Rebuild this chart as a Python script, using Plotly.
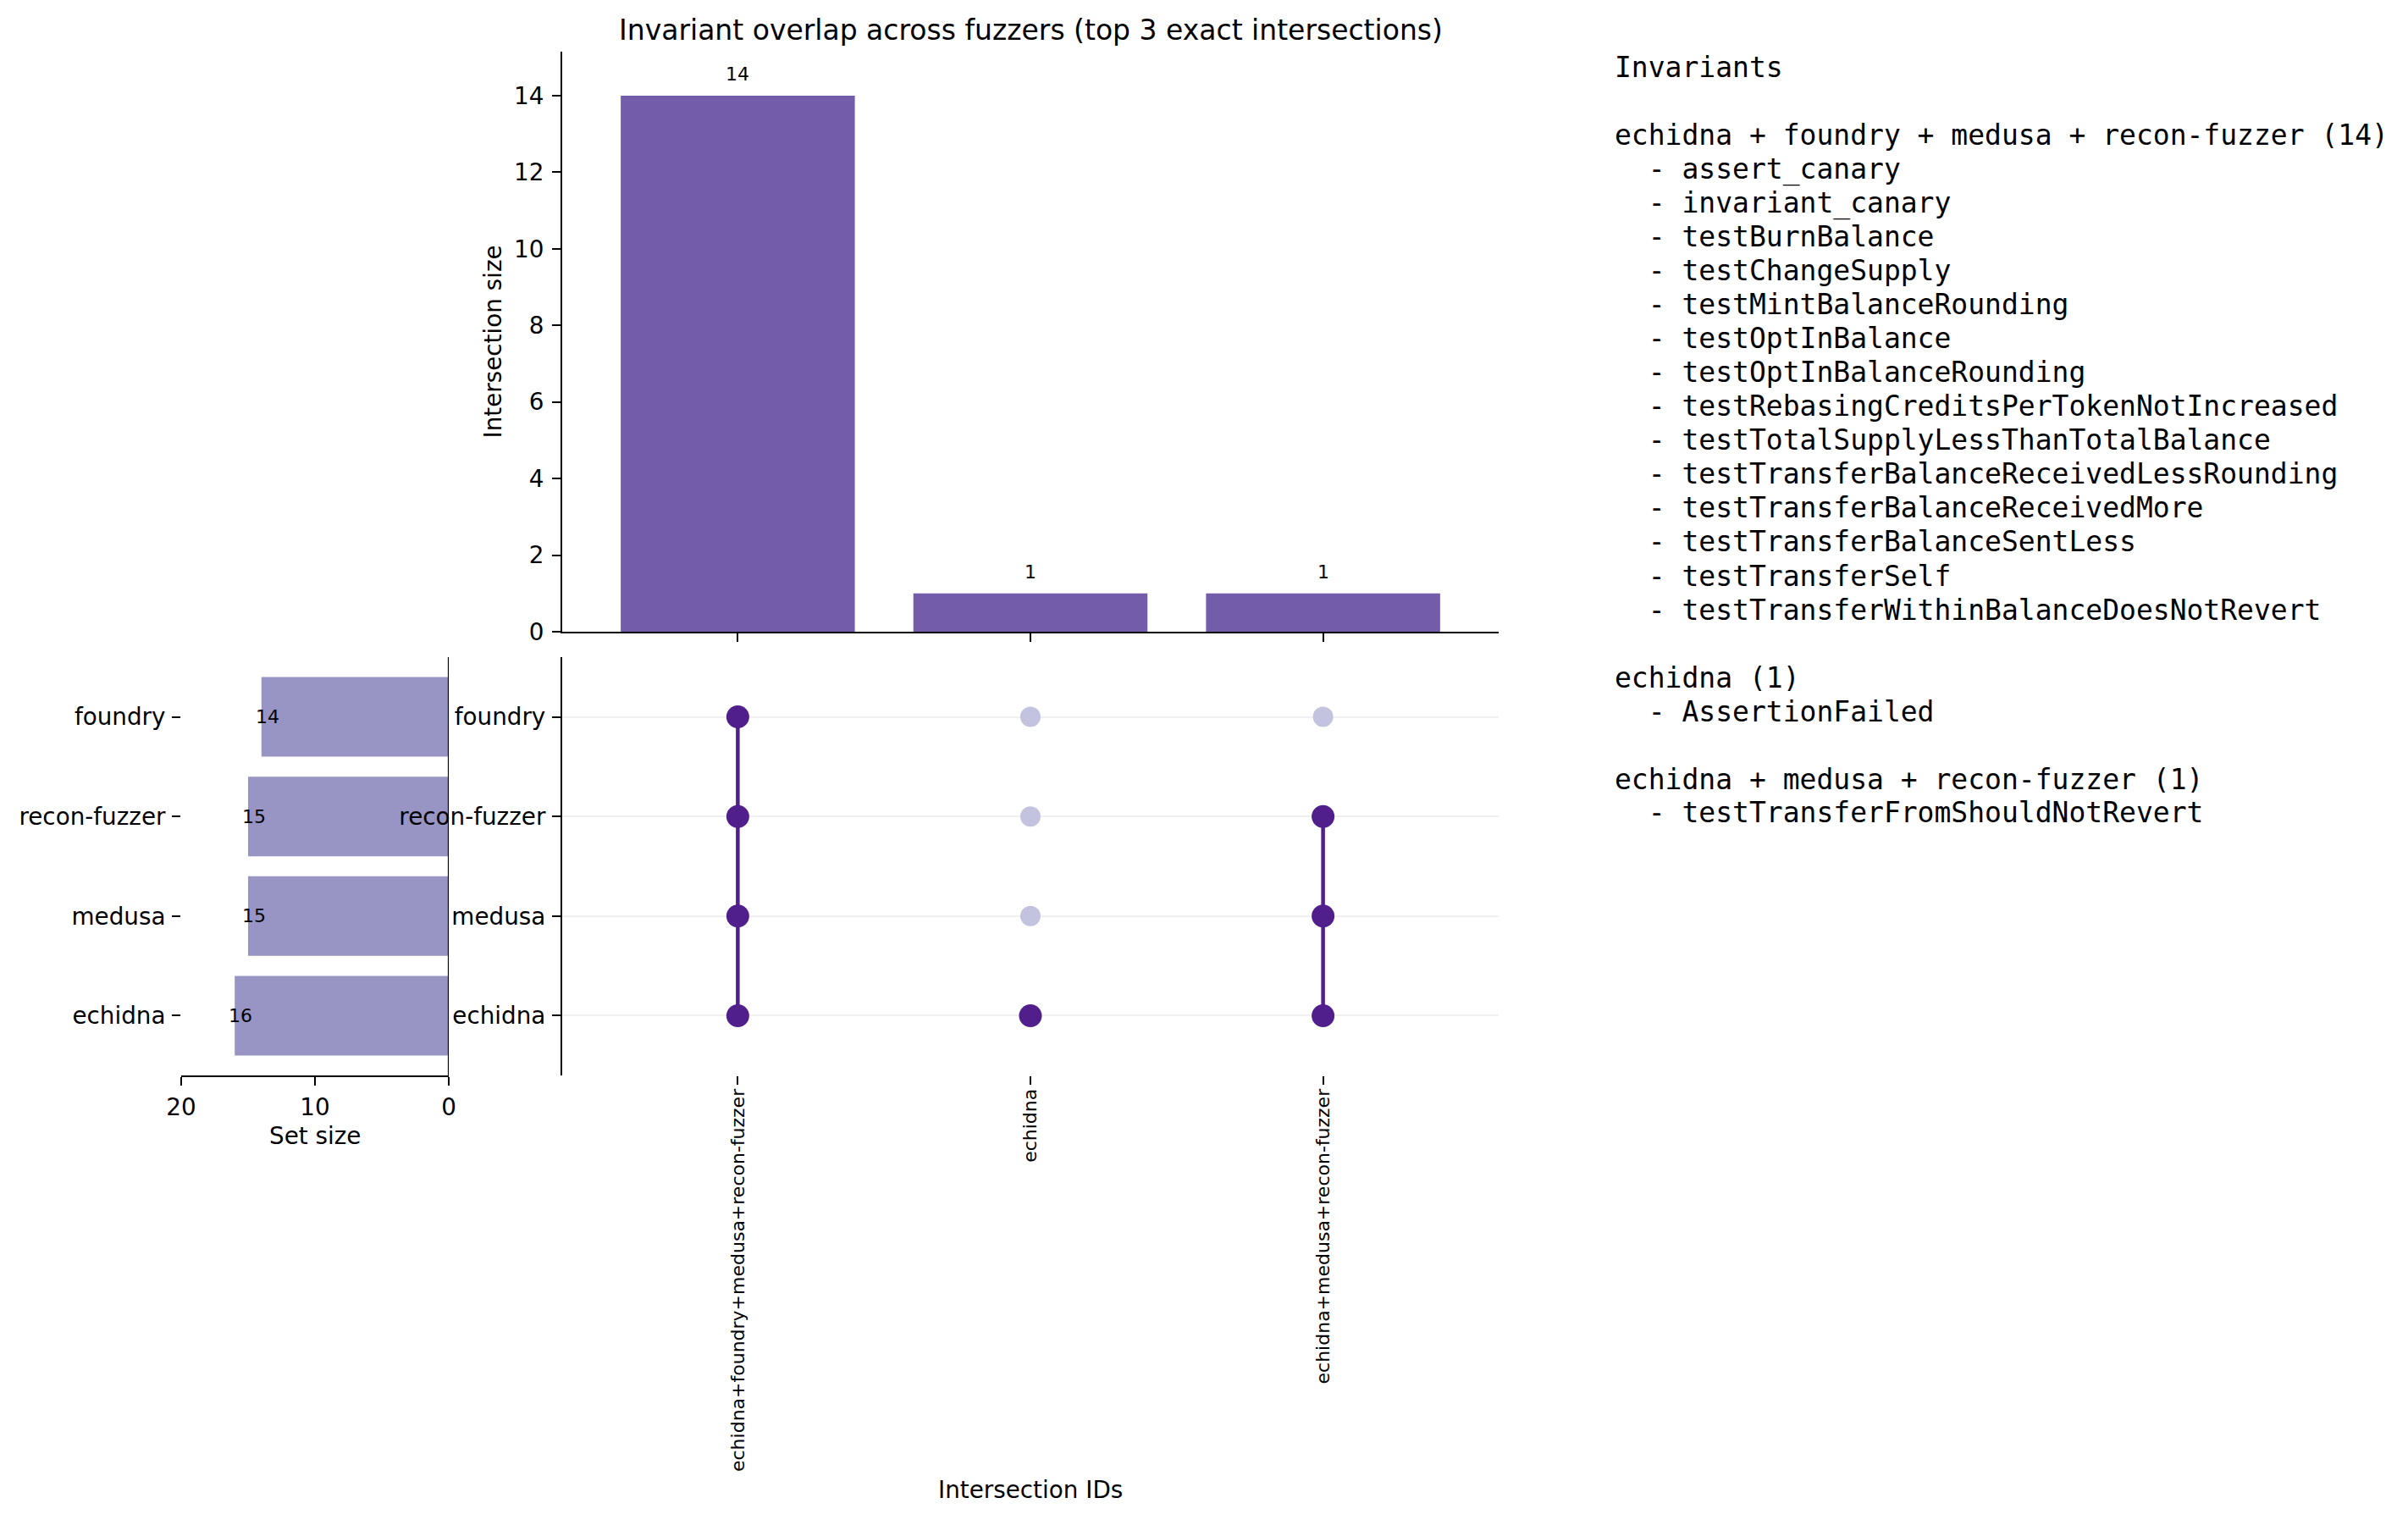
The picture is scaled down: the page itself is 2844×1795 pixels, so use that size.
import plotly.graph_objects as go

# ---------------- data ----------------
sets = ["echidna", "medusa", "recon-fuzzer", "foundry"]          # bottom -> top rows
set_sizes = [16, 15, 15, 14]
intersections = ["echidna+foundry+medusa+recon-fuzzer", "echidna", "echidna+medusa+recon-fuzzer"]
intersection_sizes = [14, 1, 1]
inv_all_four = [
    "assert_canary", "invariant_canary", "testBurnBalance", "testChangeSupply",
    "testMintBalanceRounding", "testOptInBalance", "testOptInBalanceRounding",
    "testRebasingCreditsPerTokenNotIncreased", "testTotalSupplyLessThanTotalBalance",
    "testTransferBalanceReceivedLessRounding", "testTransferBalanceReceivedMore",
    "testTransferBalanceSentLess", "testTransferSelf", "testTransferWithinBalanceDoesNotRevert",
]
inv_echidna_only = ["AssertionFailed"]
inv_echidna_medusa_recon = ["testTransferFromShouldNotRevert"]
invariant_groups = [inv_all_four, inv_echidna_only, inv_echidna_medusa_recon]

# ---------------- style ----------------
W, H = 2844, 1795
BAR_TOP = "#735ca9"
BAR_SET = "#9894c4"
DOT_ON = "#511f8b"
DOT_OFF = "#c3c3e0"
FONT = "DejaVu Sans"
TICK = 27.8

def px_x(v):
    return v / W

def px_y(v):
    return (H - v) / H

top_dom_x = [px_x(664), px_x(1770)]
top_dom_y = [px_y(746), px_y(61)]
mat_dom_y = [px_y(1270), px_y(776)]
set_dom_x = [px_x(214), px_x(530)]

fig = go.Figure()
xs = list(range(len(intersections)))
rows = list(range(len(sets)))

# top intersection bars (x / y)
fig.add_trace(go.Bar(x=xs, y=intersection_sizes, width=0.8, marker_color=BAR_TOP,
                     marker_line_width=0, xaxis="x", yaxis="y", hoverinfo="skip"))

# set size bars (x2 / y2) -- drawn before the matrix so matrix labels sit on top
fig.add_trace(go.Bar(x=set_sizes, y=rows, orientation="h", width=0.8, marker_color=BAR_SET,
                     marker_line_width=0, xaxis="x2", yaxis="y2", hoverinfo="skip"))

# matrix (x3 / y3)
members = [name.split("+") for name in intersections]
off_x, off_y, on_x, on_y = [], [], [], []
for i, mem in enumerate(members):
    for r, s in enumerate(sets):
        if s in mem:
            on_x.append(i); on_y.append(r)
        else:
            off_x.append(i); off_y.append(r)
fig.add_trace(go.Scatter(x=off_x, y=off_y, mode="markers", xaxis="x3", yaxis="y3",
                         marker=dict(size=24, color=DOT_OFF, line_width=0), hoverinfo="skip"))
for i, mem in enumerate(members):
    act = [r for r, s in enumerate(sets) if s in mem]
    if len(act) > 1:
        fig.add_trace(go.Scatter(x=[i, i], y=[min(act), max(act)], mode="lines", xaxis="x3", yaxis="y3",
                                 line=dict(color=DOT_ON, width=4.5), hoverinfo="skip"))
fig.add_trace(go.Scatter(x=on_x, y=on_y, mode="markers", xaxis="x3", yaxis="y3",
                         marker=dict(size=27, color=DOT_ON, line_width=0), hoverinfo="skip"))

axis_common = dict(linecolor="black", linewidth=2.2, tickcolor="black", tickwidth=2.2,
                   ticklen=10, ticks="outside", zeroline=False, showgrid=False, automargin=False,
                   tickfont=dict(size=TICK, color="black", family=FONT))

def txt(size, fam=FONT):
    return dict(size=size, family=fam, color="black")

annotations = []
# bar value labels
for x, v in zip(xs, intersection_sizes):
    annotations.append(dict(x=x, y=v, xref="x", yref="y", text=str(v), showarrow=False,
                            xanchor="center", yanchor="middle", yshift=25, font=txt(22)))
for r, v in zip(rows, set_sizes):
    annotations.append(dict(x=v, y=r, xref="x2", yref="y2", text=str(v), showarrow=False,
                            xanchor="center", xshift=7, yanchor="middle", font=txt(22)))

# axis titles and chart title
annotations.append(dict(x=px_x(582), y=(top_dom_y[0] + top_dom_y[1]) / 2, xref="paper", yref="paper",
                        text="Intersection size", textangle=-90, showarrow=False,
                        xanchor="center", yanchor="middle", font=txt(TICK)))
annotations.append(dict(x=px_x(372), y=px_y(1341), xref="paper", yref="paper", text="Set size",
                        showarrow=False, xanchor="center", yanchor="middle", font=txt(TICK)))
annotations.append(dict(x=px_x(1217), y=px_y(1759), xref="paper", yref="paper", text="Intersection IDs",
                        showarrow=False, xanchor="center", yanchor="middle", font=txt(TICK)))
annotations.append(dict(x=px_x(1217), y=px_y(35), xref="paper", yref="paper",
                        text="Invariant overlap across fuzzers (top 3 exact intersections)",
                        showarrow=False, xanchor="center", yanchor="middle", font=txt(33)))

# invariant text panel
lines = ["Invariants", ""]
for mem, size, invs in zip(members, intersection_sizes, invariant_groups):
    lines.append(" + ".join(mem) + f" ({size})")
    for name in invs:
        lines.append("\u00a0\u00a0- " + name)
    lines.append("")
for k, line in enumerate(lines):
    if not line:
        continue
    annotations.append(dict(x=px_x(1905), y=px_y(80 + 40 * k), xref="paper", yref="paper",
                            text=line, showarrow=False, xanchor="left", yanchor="middle",
                            font=txt(33, "DejaVu Sans Mono")))

shapes = [dict(type="line", xref="x2", yref="y2 domain", x0=0, x1=0, y0=0, y1=1,
               line=dict(color="black", width=2.2))]

fig.update_layout(
    width=W, height=H, margin=dict(l=0, r=0, t=0, b=0, autoexpand=False),
    paper_bgcolor="white", plot_bgcolor="white", showlegend=False,
    font=dict(family=FONT, color="black"),
    xaxis=dict(domain=top_dom_x, anchor="y", range=[-0.6, 2.6], tickvals=xs, showticklabels=False,
               showline=True, **axis_common),
    yaxis=dict(domain=top_dom_y, anchor="x", range=[0, 15.15], tickvals=list(range(0, 15, 2)),
               showline=True, ticklabelstandoff=4, **axis_common),
    xaxis2=dict(domain=set_dom_x, anchor="y2", range=[20, 0], tickvals=[0, 10, 20], showline=True,
                ticklabelstandoff=2, **axis_common),
    yaxis2=dict(domain=mat_dom_y, anchor="x2", range=[-0.6, 3.6], tickvals=rows, ticktext=sets,
                showline=False, ticklabelstandoff=2, **axis_common),
    xaxis3=dict(domain=top_dom_x, anchor="y3", range=[-0.6, 2.6], tickvals=xs, ticktext=intersections,
                tickangle=-90, showline=False, ticklabelstandoff=-4,
                **{**axis_common, "tickfont": txt(22)}),
    yaxis3=dict(domain=mat_dom_y, anchor="x3", range=[-0.6, 3.6], tickvals=rows, ticktext=sets,
                showline=True, ticklabelstandoff=2,
                **{**axis_common, "showgrid": True}, gridcolor="#f0f0f0", gridwidth=2),
    annotations=annotations, shapes=shapes,
)

fig.write_html("out.html")
